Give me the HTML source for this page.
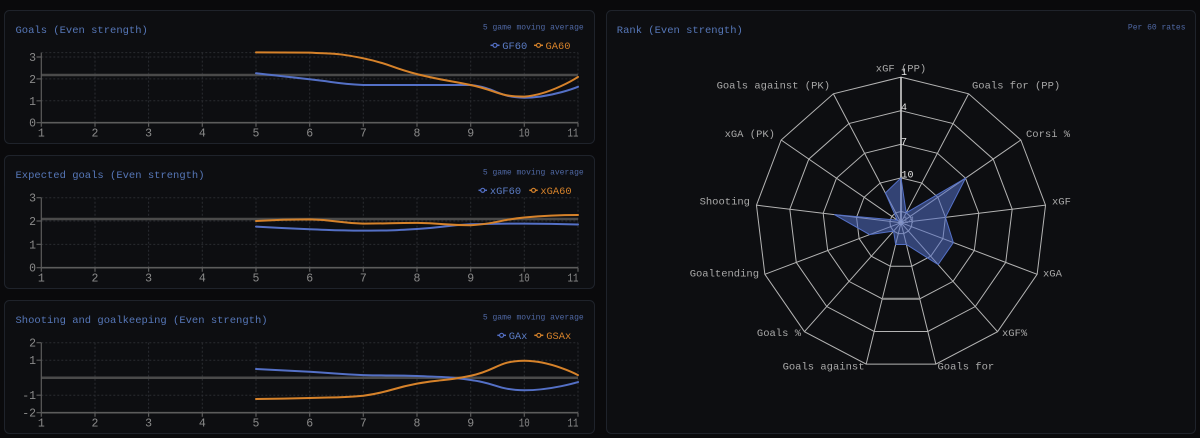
<!DOCTYPE html>
<html>
<head>
<meta charset="utf-8">
<style>
html,body{margin:0;padding:0;background:#0a0a0c;width:1200px;height:438px;overflow:hidden;}
svg{display:block;font-family:"Liberation Mono","DejaVu Sans Mono",monospace;}
</style>
</head>
<body>
<svg width="1200" height="438" viewBox="0 0 1200 438" xmlns="http://www.w3.org/2000/svg">
  <rect x="0" y="0" width="1200" height="438" fill="#0a0a0c"/>

  <!-- Panels -->
  <rect x="4.5" y="10.5" width="590" height="133" rx="5" fill="#0d0e11" stroke="#1f232b" stroke-width="1"/>
  <rect x="4.5" y="155.5" width="590" height="133" rx="5" fill="#0d0e11" stroke="#1f232b" stroke-width="1"/>
  <rect x="4.5" y="300.5" width="590" height="133" rx="5" fill="#0d0e11" stroke="#1f232b" stroke-width="1"/>
  <rect x="606.5" y="10.5" width="589" height="423" rx="5" fill="#0d0e11" stroke="#1f232b" stroke-width="1"/>

  <!-- ================= Chart 1 ================= -->
  <text x="15.5" y="33" font-size="10.5" fill="#5677b8">Goals (Even strength)</text>
  <text x="583.7" y="29.5" font-size="8" fill="#5069a6" text-anchor="end">5 game moving average</text>
  <line x1="490.5" y1="45.3" x2="499.5" y2="45.3" stroke="#5470c6" stroke-width="1.5"/>
  <circle cx="495" cy="45.3" r="2" fill="#0d0e11" stroke="#5470c6" stroke-width="1.2"/>
  <text x="502.3" y="49" font-size="10.4" fill="#5b7cc4">GF60</text>
  <line x1="534" y1="45.3" x2="543" y2="45.3" stroke="#d6822a" stroke-width="1.5"/>
  <circle cx="538.5" cy="45.3" r="2" fill="#0d0e11" stroke="#d6822a" stroke-width="1.2"/>
  <text x="545.5" y="49" font-size="10.4" fill="#d6822a">GA60</text>
  <g stroke="#2a2c31" stroke-width="1" stroke-dasharray="2,2" fill="none">
    <path d="M95,52.6V122.7 M148.6,52.6V122.7 M202.3,52.6V122.7 M256,52.6V122.7 M309.7,52.6V122.7 M363.3,52.6V122.7 M417,52.6V122.7 M470.7,52.6V122.7 M524.3,52.6V122.7 M578,52.6V122.7"/>
    <path d="M41.3,52.6H578 M41.3,57H578 M41.3,78.9H578 M41.3,100.8H578"/>
  </g>
  <line x1="41.3" y1="75" x2="578" y2="75" stroke="#4a4a4a" stroke-width="2.5"/>
  <g stroke="#5c5c5c" stroke-width="1.2">
    <line x1="41.3" y1="52.6" x2="41.3" y2="122.7"/>
    <line x1="41.3" y1="122.7" x2="578" y2="122.7" stroke-width="1.6"/>
    <path d="M36.5,57H41.3 M36.5,78.9H41.3 M36.5,100.8H41.3 M36.5,122.7H41.3"/>
    <path d="M41.3,122.7v4 M95,122.7v4 M148.6,122.7v4 M202.3,122.7v4 M256,122.7v4 M309.7,122.7v4 M363.3,122.7v4 M417,122.7v4 M470.7,122.7v4 M524.3,122.7v4 M578,122.7v4"/>
  </g>
  <g font-size="11.5" fill="#8a8a8a" text-anchor="end">
    <text x="36" y="61">3</text>
    <text x="36" y="82.9">2</text>
    <text x="36" y="104.8">1</text>
    <text x="36" y="126.7">0</text>
  </g>
  <g font-size="11.5" fill="#8a8a8a" text-anchor="middle">
    <text x="41.3" y="136.5">1</text><text x="95" y="136.5">2</text><text x="148.6" y="136.5">3</text>
    <text x="202.3" y="136.5">4</text><text x="256" y="136.5">5</text><text x="309.7" y="136.5">6</text>
    <text x="363.3" y="136.5">7</text><text x="417" y="136.5">8</text><text x="470.7" y="136.5">9</text>
    <text x="524.3" y="136.5" textLength="11" lengthAdjust="spacingAndGlyphs">10</text>
    <text x="573" y="136.5" textLength="11" lengthAdjust="spacingAndGlyphs">11</text>
  </g>
  <g fill="none" stroke-width="2" stroke-linejoin="round" stroke-linecap="round">
    <path stroke="#5470c6" d="M256,73.2 C256,73.2 282.9,76.35 309.7,79.3 C336.5,82.25 336.5,83.57 363.3,85 C390.1,85 390.2,85 417,85 C443.8,85 443.9,85 470.7,85 C497.5,88.18 497.5,97.25 524.3,97.7 C551.1,97.7 578,86.8 578,86.8"/>
    <path stroke="#d6822a" d="M256,52.4 C256,52.4 282.9,52.4 309.7,52.6 C336.5,54.08 336.5,52.93 363.3,58.3 C390.1,63.68 390.2,67.43 417,74.1 C443.8,80.78 443.9,79.38 470.7,85 C497.5,90.63 497.5,96.6 524.3,96.6 C551.1,94.58 578,76.9 578,76.9"/>
  </g>

  <!-- ================= Chart 2 ================= -->
  <text x="15.5" y="178" font-size="10.5" fill="#5677b8">Expected goals (Even strength)</text>
  <text x="583.7" y="174.5" font-size="8" fill="#5069a6" text-anchor="end">5 game moving average</text>
  <line x1="478.5" y1="190.3" x2="487" y2="190.3" stroke="#5470c6" stroke-width="1.5"/>
  <circle cx="482.7" cy="190.3" r="2" fill="#0d0e11" stroke="#5470c6" stroke-width="1.2"/>
  <text x="489.9" y="194" font-size="10.4" fill="#5b7cc4">xGF60</text>
  <line x1="529.3" y1="190.3" x2="537.7" y2="190.3" stroke="#d6822a" stroke-width="1.5"/>
  <circle cx="533.5" cy="190.3" r="2" fill="#0d0e11" stroke="#d6822a" stroke-width="1.2"/>
  <text x="540.4" y="194" font-size="10.4" fill="#d6822a">xGA60</text>
  <g stroke="#2a2c31" stroke-width="1" stroke-dasharray="2,2" fill="none">
    <path d="M95,197.7V267.7 M148.6,197.7V267.7 M202.3,197.7V267.7 M256,197.7V267.7 M309.7,197.7V267.7 M363.3,197.7V267.7 M417,197.7V267.7 M470.7,197.7V267.7 M524.3,197.7V267.7 M578,197.7V267.7"/>
    <path d="M41.3,197.7H578 M41.3,221H578 M41.3,244.4H578"/>
  </g>
  <line x1="41.3" y1="219" x2="578" y2="219" stroke="#4a4a4a" stroke-width="2.5"/>
  <g stroke="#5c5c5c" stroke-width="1.2">
    <line x1="41.3" y1="197.7" x2="41.3" y2="267.7"/>
    <line x1="41.3" y1="267.7" x2="578" y2="267.7" stroke-width="1.6"/>
    <path d="M36.5,197.7H41.3 M36.5,221H41.3 M36.5,244.4H41.3 M36.5,267.7H41.3"/>
    <path d="M41.3,267.7v4 M95,267.7v4 M148.6,267.7v4 M202.3,267.7v4 M256,267.7v4 M309.7,267.7v4 M363.3,267.7v4 M417,267.7v4 M470.7,267.7v4 M524.3,267.7v4 M578,267.7v4"/>
  </g>
  <g font-size="11.5" fill="#8a8a8a" text-anchor="end">
    <text x="36" y="201.7">3</text>
    <text x="36" y="225">2</text>
    <text x="36" y="248.4">1</text>
    <text x="36" y="271.7">0</text>
  </g>
  <g font-size="11.5" fill="#8a8a8a" text-anchor="middle">
    <text x="41.3" y="281.5">1</text><text x="95" y="281.5">2</text><text x="148.6" y="281.5">3</text>
    <text x="202.3" y="281.5">4</text><text x="256" y="281.5">5</text><text x="309.7" y="281.5">6</text>
    <text x="363.3" y="281.5">7</text><text x="417" y="281.5">8</text><text x="470.7" y="281.5">9</text>
    <text x="524.3" y="281.5" textLength="11" lengthAdjust="spacingAndGlyphs">10</text>
    <text x="573" y="281.5" textLength="11" lengthAdjust="spacingAndGlyphs">11</text>
  </g>
  <g fill="none" stroke-width="2" stroke-linejoin="round" stroke-linecap="round">
    <path stroke="#5470c6" d="M256,226.6 C256,226.6 282.9,228.2 309.7,229.2 C336.5,230.2 336.5,230.6 363.3,230.6 C390.1,230.55 390.2,230.58 417,229 C443.8,227.43 443.9,225.65 470.7,224.3 C497.5,223.6 497.5,223.6 524.3,223.6 C551.1,223.65 578,224.5 578,224.5"/>
    <path stroke="#d6822a" d="M256,221 C256,221 282.9,219.4 309.7,219.4 C336.5,220.05 336.5,222.73 363.3,223.6 C390.1,223.6 390.2,222.9 417,222.9 C443.8,223.3 443.9,225.2 470.7,225.2 C497.5,223.85 497.5,220.05 524.3,217.5 C551.1,215 578,215 578,215"/>
  </g>

  <!-- ================= Chart 3 ================= -->
  <text x="15.5" y="323" font-size="10.5" fill="#5677b8">Shooting and goalkeeping (Even strength)</text>
  <text x="583.7" y="319.5" font-size="8" fill="#5069a6" text-anchor="end">5 game moving average</text>
  <line x1="497.3" y1="335.3" x2="506" y2="335.3" stroke="#5470c6" stroke-width="1.5"/>
  <circle cx="501.6" cy="335.3" r="2" fill="#0d0e11" stroke="#5470c6" stroke-width="1.2"/>
  <text x="508.7" y="339" font-size="10.4" fill="#5b7cc4">GAx</text>
  <line x1="534.3" y1="335.3" x2="543.3" y2="335.3" stroke="#d6822a" stroke-width="1.5"/>
  <circle cx="538.8" cy="335.3" r="2" fill="#0d0e11" stroke="#d6822a" stroke-width="1.2"/>
  <text x="546.3" y="339" font-size="10.4" fill="#d6822a">GSAx</text>
  <g stroke="#2a2c31" stroke-width="1" stroke-dasharray="2,2" fill="none">
    <path d="M95,342.7V412.7 M148.6,342.7V412.7 M202.3,342.7V412.7 M256,342.7V412.7 M309.7,342.7V412.7 M363.3,342.7V412.7 M417,342.7V412.7 M470.7,342.7V412.7 M524.3,342.7V412.7 M578,342.7V412.7"/>
    <path d="M41.3,342.7H578 M41.3,360.2H578 M41.3,395.2H578"/>
  </g>
  <line x1="41.3" y1="377.7" x2="578" y2="377.7" stroke="#4a4a4a" stroke-width="2.5"/>
  <g stroke="#5c5c5c" stroke-width="1.2">
    <line x1="41.3" y1="342.7" x2="41.3" y2="412.7"/>
    <line x1="41.3" y1="412.7" x2="578" y2="412.7" stroke-width="1.6"/>
    <path d="M36.5,342.7H41.3 M36.5,360.2H41.3 M36.5,395.2H41.3 M36.5,412.7H41.3"/>
    <path d="M41.3,412.7v4 M95,412.7v4 M148.6,412.7v4 M202.3,412.7v4 M256,412.7v4 M309.7,412.7v4 M363.3,412.7v4 M417,412.7v4 M470.7,412.7v4 M524.3,412.7v4 M578,412.7v4"/>
  </g>
  <g font-size="11.5" fill="#8a8a8a" text-anchor="end">
    <text x="36" y="346.7">2</text>
    <text x="36" y="364.2">1</text>
    <text x="36" y="399.2">-1</text>
    <text x="36" y="416.7">-2</text>
  </g>
  <g font-size="11.5" fill="#8a8a8a" text-anchor="middle">
    <text x="41.3" y="426.5">1</text><text x="95" y="426.5">2</text><text x="148.6" y="426.5">3</text>
    <text x="202.3" y="426.5">4</text><text x="256" y="426.5">5</text><text x="309.7" y="426.5">6</text>
    <text x="363.3" y="426.5">7</text><text x="417" y="426.5">8</text><text x="470.7" y="426.5">9</text>
    <text x="524.3" y="426.5" textLength="11" lengthAdjust="spacingAndGlyphs">10</text>
    <text x="573" y="426.5" textLength="11" lengthAdjust="spacingAndGlyphs">11</text>
  </g>
  <g fill="none" stroke-width="2" stroke-linejoin="round" stroke-linecap="round">
    <path stroke="#5470c6" d="M256,368.95 C256,368.95 282.9,370.22 309.7,371.75 C336.5,373.28 336.5,374.03 363.3,375.08 C390.1,375.7 390.2,375.4 417,375.95 C443.8,377.18 443.9,376.39 470.7,379.98 C497.5,383.57 497.5,389.78 524.3,390.3 C551.1,390.3 578,382.08 578,382.08"/>
    <path stroke="#d6822a" d="M256,399.05 C256,399.05 282.9,398.83 309.7,398 C336.5,397.17 336.5,398 363.3,395.73 C390.1,392.14 390.2,388.64 417,383.65 C443.8,378.66 443.9,381.51 470.7,375.78 C497.5,370.05 497.5,360.9 524.3,360.73 C551.1,360.73 578,375.08 578,375.08"/>
  </g>

  <!-- ================= Radar ================= -->
  <text x="616.8" y="33" font-size="10.5" fill="#5677b8">Rank (Even strength)</text>
  <text x="1185.5" y="29.5" font-size="8" fill="#5069a6" text-anchor="end">Per 60 rates</text>

  <g transform="translate(901,222.7)" fill="none" stroke="#b4b4b4" stroke-width="1">
    <polygon transform="scale(1.456)" vector-effect="non-scaling-stroke" points="0,-100 46.472,-88.546 82.298,-56.806 99.271,-12.054 93.502,35.46 66.312,74.851 23.932,97.094 -23.932,97.094 -66.312,74.851 -93.502,35.46 -99.271,-12.054 -82.298,-56.806 -46.472,-88.546"/>
    <polygon transform="scale(1.12)" vector-effect="non-scaling-stroke" points="0,-100 46.472,-88.546 82.298,-56.806 99.271,-12.054 93.502,35.46 66.312,74.851 23.932,97.094 -23.932,97.094 -66.312,74.851 -93.502,35.46 -99.271,-12.054 -82.298,-56.806 -46.472,-88.546"/>
    <polygon transform="scale(0.784)" vector-effect="non-scaling-stroke" points="0,-100 46.472,-88.546 82.298,-56.806 99.271,-12.054 93.502,35.46 66.312,74.851 23.932,97.094 -23.932,97.094 -66.312,74.851 -93.502,35.46 -99.271,-12.054 -82.298,-56.806 -46.472,-88.546"/>
    <polygon transform="scale(0.448)" vector-effect="non-scaling-stroke" points="0,-100 46.472,-88.546 82.298,-56.806 99.271,-12.054 93.502,35.46 66.312,74.851 23.932,97.094 -23.932,97.094 -66.312,74.851 -93.502,35.46 -99.271,-12.054 -82.298,-56.806 -46.472,-88.546"/>
    <polygon transform="scale(0.112)" vector-effect="non-scaling-stroke" points="0,-100 46.472,-88.546 82.298,-56.806 99.271,-12.054 93.502,35.46 66.312,74.851 23.932,97.094 -23.932,97.094 -66.312,74.851 -93.502,35.46 -99.271,-12.054 -82.298,-56.806 -46.472,-88.546"/>
    <path d="M0,0L0,-145.6 M0,0L67.66,-128.92 M0,0L119.83,-82.71 M0,0L144.54,-17.55 M0,0L136.14,51.63 M0,0L96.55,108.98 M0,0L34.85,141.37 M0,0L-34.85,141.37 M0,0L-96.55,108.98 M0,0L-136.14,51.63 M0,0L-144.54,-17.55 M0,0L-119.83,-82.71 M0,0L-67.66,-128.92"/>
    <line x1="0" y1="0" x2="0" y2="-145.6" stroke="#d0d0d0" stroke-width="1.6"/>
    <line x1="-18.76" y1="76.12" x2="18.76" y2="76.12" stroke="#8a8a8a" stroke-width="2.2"/>
    <text x="1.5" y="0.1" font-size="10" fill="#9a9a9a" stroke="none">14</text>
    <polygon fill="rgba(84,112,198,0.55)" stroke="#5470c6" stroke-width="1" points="0,-44.8 5.2,-9.92 64.52,-44.54 44.47,-5.4 52.36,19.86 37.13,41.92 5.36,21.75 -5.36,21.75 -7.43,8.38 -31.42,11.91 -66.71,-8.1 -3.7,-2.56 -15.61,-29.75"/>
    <circle cx="0" cy="0" r="2" fill="none" stroke="#7d90c8" stroke-width="1"/>
  </g>

  <g font-size="10" fill="#e4e4e4">
    <text x="901" y="75.2">1</text>
    <text x="901" y="110.2">4</text>
    <text x="901" y="144.5">7</text>
    <text x="901.5" y="177.5">10</text>
  </g>

  <g font-size="10.5" fill="#a8a8a8">
    <text x="901" y="71.4" text-anchor="middle">xGF (PP)</text>
    <text x="972" y="88.7">Goals for (PP)</text>
    <text x="830" y="88.7" text-anchor="end">Goals against (PK)</text>
    <text x="1026" y="137">Corsi %</text>
    <text x="775" y="137" text-anchor="end">xGA (PK)</text>
    <text x="1052" y="204.4">xGF</text>
    <text x="750" y="204.4" text-anchor="end">Shooting</text>
    <text x="1043" y="276.4">xGA</text>
    <text x="759" y="276.4" text-anchor="end">Goaltending</text>
    <text x="1002" y="336">xGF%</text>
    <text x="801" y="336" text-anchor="end">Goals %</text>
    <text x="937.5" y="369.7">Goals for</text>
    <text x="864.5" y="369.7" text-anchor="end">Goals against</text>
  </g>
</svg>
</body>
</html>
